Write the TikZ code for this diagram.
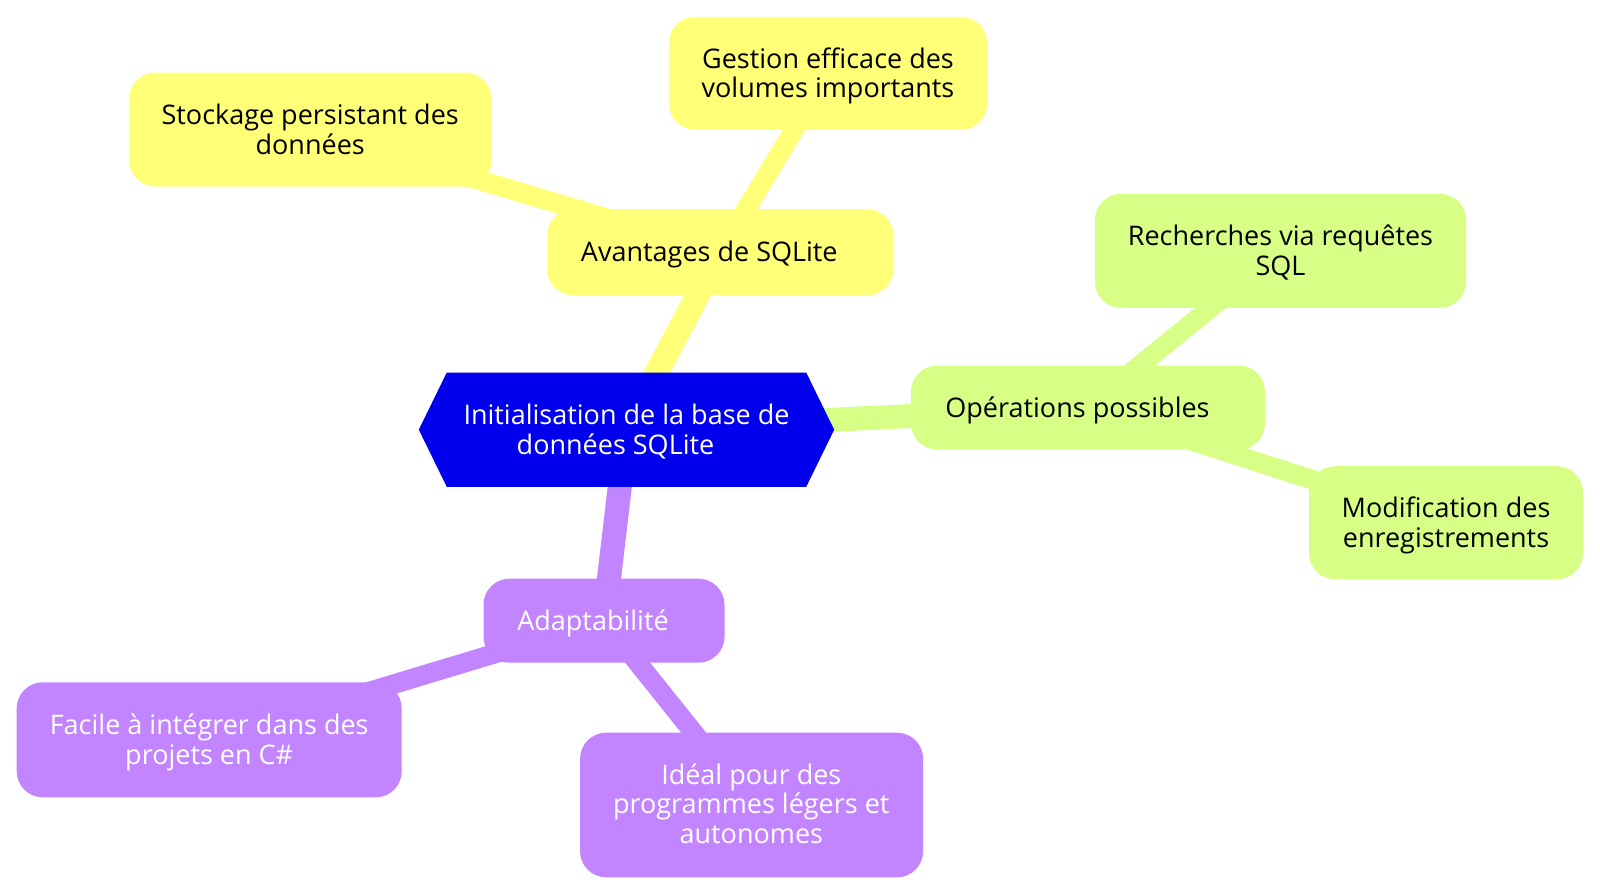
\documentclass[tikz,border=0pt]{standalone}
\usepackage{fontspec}
\setmainfont{Open Sans}
\usetikzlibrary{backgrounds}
\definecolor{rootblue}{HTML}{0000EC}
\definecolor{secY}{HTML}{FFFF78}
\definecolor{secG}{HTML}{D7FF86}
\definecolor{secP}{HTML}{C285FF}
\newcommand\mlines[1]{\begin{tabular}[t]{@{}c@{}}#1\end{tabular}}
\tikzset{
  mbox/.style={rectangle, rounded corners=26pt, inner sep=0pt, draw=none},
  ybox/.style={mbox, fill=secY},
  gbox/.style={mbox, fill=secG},
  pbox/.style={mbox, fill=secP},
  lbl/.style={inner sep=0pt, anchor=base, font=\fontsize{27}{29.5}\selectfont},
  dark/.style={lbl, text=black},
  light/.style={lbl, text=white},
  edgeA/.style={line width=24pt},
  edgeB/.style={line width=19.5pt}
}
\begin{document}
\begin{tikzpicture}[x=1pt,y=-1pt]
\useasboundingbox (0,0) rectangle (1600,894);
% root
\node[rectangle, inner sep=0pt, minimum width=415pt, minimum height=114pt] (root) at (626.5,429.7) {};
\fill[rootblue] (root.west) -- ([xshift=28pt]root.north west) -- ([xshift=-28pt]root.north east)
  -- (root.east) -- ([xshift=-28pt]root.south east) -- ([xshift=28pt]root.south west) -- cycle;
\node[light] (rootT) at (626.5,424.9) {\mlines{Initialisation de la base de\\données SQLite\kern22pt}};
% yellow branch
\node[ybox, minimum width=346pt, minimum height=86pt] (avant) at (720.3,252.2) {};
\node[dark] (avantT) at (709.3,261.7) {Avantages de SQLite};
\node[ybox, minimum width=362pt, minimum height=114pt] (stock) at (310.2,129.5) {};
\node[dark] (stockT) at (310.2,124.6) {\mlines{Stockage persistant des\\données}};
\node[ybox, minimum width=318pt, minimum height=113pt] (gest) at (828,73.3) {};
\node[dark] (gestT) at (828,68.4) {\mlines{Gestion efficace des\\volumes importants}};
% green branch
\node[gbox, minimum width=354pt, minimum height=84pt] (oper) at (1088,407.5) {};
\node[dark] (operT) at (1077.5,417) {Opérations possibles};
\node[gbox, minimum width=371pt, minimum height=114pt] (rech) at (1280.5,250.8) {};
\node[dark] (rechT) at (1280.5,245.9) {\mlines{Recherches via requêtes\\SQL}};
\node[gbox, minimum width=274pt, minimum height=113pt] (modif) at (1446,522.7) {};
\node[dark] (modifT) at (1446,517.8) {\mlines{Modification des\\enregistrements}};
% purple branch
\node[pbox, minimum width=241pt, minimum height=84pt] (adapt) at (604,620.7) {};
\node[light] (adaptT) at (593,630.5) {Adaptabilité};
\node[pbox, minimum width=385pt, minimum height=115pt] (facile) at (209.2,739.8) {};
\node[light] (facileT) at (209.2,734.9) {\mlines{Facile à intégrer dans des\\projets en C\#}};
\node[pbox, minimum width=343pt, minimum height=144.6pt] (ideal) at (751.6,805) {};
\node[light] (idealT) at (751.3,784.4) {\mlines{Idéal pour des\\programmes légers et\\autonomes}};
% connectors
\begin{pgfonlayer}{background}
\fill[white] (0,0) rectangle (1600,894);
\draw[edgeA, secY] (root.center) -- (avant.center);
\draw[edgeB, secY] (avant.center) -- (stock.center);
\draw[edgeB, secY] (avant.center) -- (gest.center);
\draw[edgeA, secG] (root.center) -- (oper.center);
\draw[edgeB, secG] (oper.center) -- (rech.center);
\draw[edgeB, secG] (oper.center) -- (modif.center);
\draw[edgeA, secP] (root.center) -- (adapt.center);
\draw[edgeB, secP] (adapt.center) -- (facile.center);
\draw[edgeB, secP] (adapt.center) -- (ideal.center);
\end{pgfonlayer}
\end{tikzpicture}
\end{document}
